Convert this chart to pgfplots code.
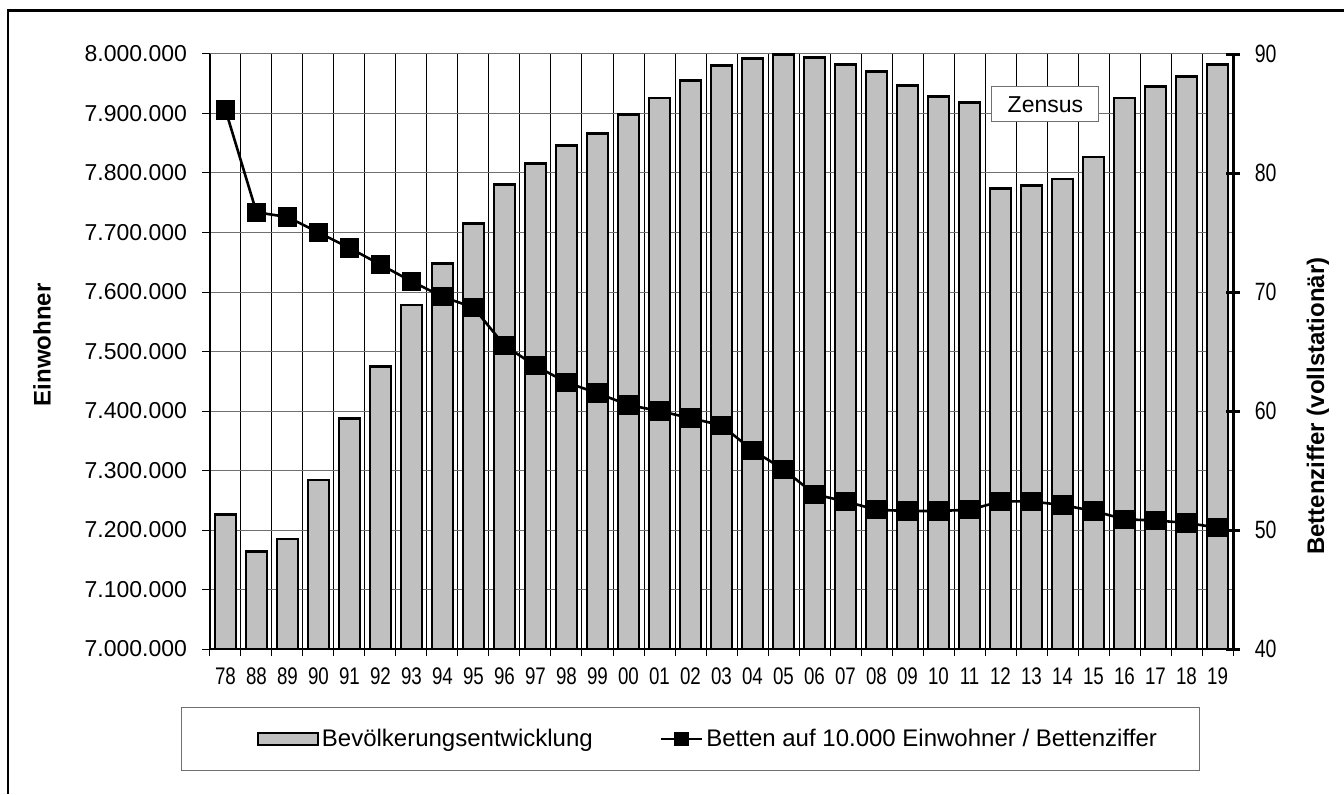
\documentclass[border=0pt]{standalone}
\usepackage{fontspec}
\setmainfont{Liberation Sans}
\usepackage{pgfplots}
\usepackage{pgfplotstable}
\pgfplotsset{compat=1.18}
\definecolor{barfill}{HTML}{C0C0C0}
\definecolor{gridgray}{HTML}{707070}
\pgfplotstableread{
x pop
0 7226000
1 7164000
2 7185000
3 7284000
4 7388000
5 7475000
6 7578000
7 7648000
8 7715000
9 7781000
10 7816000
11 7846000
12 7866000
13 7898000
14 7926000
15 7955000
16 7980000
17 7992000
18 7999000
19 7994000
20 7983000
21 7971000
22 7947000
23 7928000
24 7918000
25 7774000
26 7779000
27 7790000
28 7827000
29 7926000
30 7946000
31 7962000
32 7982000
}\popdata
\pgfplotstableread{
x beds
0 85.3
1 76.7
2 76.3
3 75.0
4 73.7
5 72.3
6 70.9
7 69.6
8 68.7
9 65.5
10 63.8
11 62.4
12 61.5
13 60.5
14 60.0
15 59.4
16 58.8
17 56.7
18 55.1
19 53.0
20 52.4
21 51.7
22 51.6
23 51.6
24 51.7
25 52.4
26 52.4
27 52.1
28 51.6
29 50.9
30 50.8
31 50.6
32 50.2
}\beddata
\begin{document}
\begin{tikzpicture}
\useasboundingbox (0,0) rectangle (672pt,397pt);
\begin{axis}[
  at={(105pt,72.5pt)}, anchor=south west,
  scale only axis, width=511.5pt, height=297.5pt,
  xmin=-0.5, xmax=32.5, ymin=7000000, ymax=8000000,
  scaled y ticks=false,
  axis x line*=bottom, axis y line*=left,
  axis line style={-, line width=0.6pt, black},
  xtick={0,...,32},
  xticklabels={78,88,89,90,91,92,93,94,95,96,97,98,99,00,01,02,03,04,05,06,07,08,09,10,11,12,13,14,15,16,17,18,19},
  major x tick style={draw=none},
  minor xtick={-0.5,0.5,...,32.5},
  xminorgrids, minor x grid style={black, line width=0.5pt},
  minor x tick style={black, line width=0.5pt},
  minor tick length=3.5pt,
  tick align=outside, major tick length=4pt,
  xticklabel style={font=\fontsize{12}{14}\selectfont, xscale=0.78, yshift=-2pt},
  ytick={7000000,7100000,7200000,7300000,7400000,7500000,7600000,7700000,7800000,7900000,8000000},
  yticklabels={7.000.000,7.100.000,7.200.000,7.300.000,7.400.000,7.500.000,7.600.000,7.700.000,7.800.000,7.900.000,8.000.000},
  yticklabel style={font=\fontsize{11.5}{13}\selectfont, xshift=-4pt},
  major y tick style={black, line width=0.5pt},
  ymajorgrids, major y grid style={gridgray, line width=0.5pt},
  ylabel={\textbf{Einwohner}},
  ylabel style={at={(rel axis cs:0,0.511)}, anchor=center, yshift=84pt, font=\fontsize{12}{14}\selectfont},
]
\addplot[ybar, bar width=10.5pt, fill=barfill, draw=black, line width=1.4pt] table[x=x,y=pop]{\popdata};
\end{axis}
\begin{axis}[
  at={(105pt,72.5pt)}, anchor=south west,
  scale only axis, width=511.5pt, height=297.5pt,
  xmin=-0.5, xmax=32.5, ymin=40, ymax=90,
  axis x line=none, axis y line*=right,
  y axis line style={-, line width=1.5pt, black},
  ytick={40,50,60,70,80,90},
  /pgf/number format/assume math mode=true,
  major y tick style={black, line width=1.5pt},
  tick align=center, major tick length=7pt,
  yticklabel style={font=\fontsize{12.5}{14}\selectfont, xscale=0.78, xshift=6pt},
  ylabel={\textbf{Bettenziffer (vollstationär)}},
  ylabel style={at={(rel axis cs:1,0.408)}, anchor=center, yshift=-42.5pt, font=\fontsize{12}{14}\selectfont},
  legend columns=2,
  legend style={at={(axis description cs:0.487,-0.151)}, anchor=center, draw=none, fill=none,
    font=\fontsize{12}{14}\selectfont, /tikz/every even column/.append style={column sep=32pt},
    nodes={inner xsep=1.5pt}},
]
\addlegendimage{legend image code/.code={\draw[fill=barfill, draw=black, line width=1.2pt] (0pt,-3pt) rectangle (30pt,3pt);}}
\addlegendentry{Bevölkerungsentwicklung}
\addplot[black, line width=1.3pt, mark=square*, mark size=4.2pt,
  legend image code/.code={\draw[black, line width=1.3pt, mark=square*, mark size=3pt, mark repeat=2, mark phase=2] plot coordinates {(0pt,0pt) (10.25pt,0pt) (20.5pt,0pt)};}]
  table[x=x,y=beds]{\beddata};
\addlegendentry{Betten auf 10.000 Einwohner / Bettenziffer}
\node[draw=gridgray, fill=white, line width=0.5pt, minimum width=53.5pt, minimum height=17.5pt, inner sep=0pt, font=\fontsize{11.5}{13}\selectfont] at (axis cs:26.45,85.76) {Zensus};
\end{axis}
\draw[gridgray, line width=0.5pt] (90.5pt,12pt) rectangle (599.5pt,43.5pt);
\draw[line width=1.4pt] (4pt,0pt) -- (4pt,391.6pt) -- (672pt,391.6pt);
\end{tikzpicture}
\end{document}
